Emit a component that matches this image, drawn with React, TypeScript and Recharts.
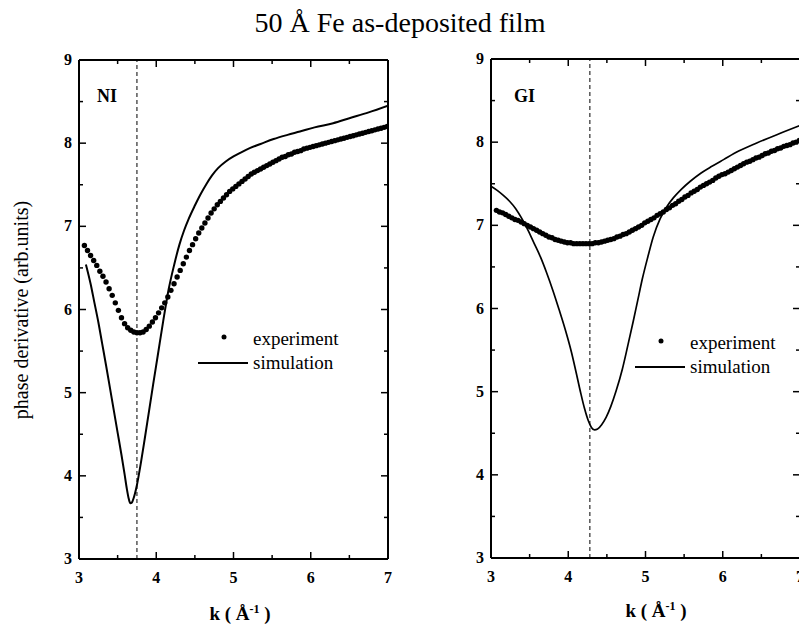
import { ComposedChart, Line, XAxis, YAxis, ReferenceLine } from "recharts";

const kTicks = [3, 3.5, 4, 4.5, 5, 5.5, 6, 6.5, 7];
const vTicks = [3, 3.5, 4, 4.5, 5, 5.5, 6, 6.5, 7, 7.5, 8, 8.5, 9];

// NI panel: [k, phase derivative]
const niExperiment: [number, number][] = [
    [3.07, 6.77], [3.11, 6.71], [3.15, 6.65], [3.19, 6.59], [3.23, 6.53], [3.27, 6.46], [3.31, 6.4], [3.35, 6.33],
    [3.39, 6.25], [3.43, 6.17], [3.47, 6.08], [3.51, 5.99], [3.55, 5.9], [3.59, 5.83], [3.63, 5.78], [3.67, 5.75],
    [3.71, 5.73], [3.75, 5.72], [3.79, 5.72], [3.83, 5.73], [3.87, 5.76], [3.91, 5.8], [3.95, 5.85], [3.99, 5.9],
    [4.03, 5.96], [4.07, 6.02], [4.11, 6.08], [4.15, 6.15], [4.19, 6.23], [4.23, 6.31], [4.27, 6.39], [4.31, 6.47],
    [4.35, 6.55], [4.39, 6.63], [4.43, 6.71], [4.47, 6.78], [4.51, 6.85], [4.55, 6.92], [4.59, 6.98], [4.63, 7.04],
    [4.67, 7.1], [4.71, 7.16], [4.75, 7.21], [4.79, 7.26], [4.83, 7.3], [4.87, 7.34], [4.91, 7.38], [4.95, 7.42],
    [4.99, 7.45], [5.03, 7.48], [5.07, 7.51], [5.11, 7.54], [5.15, 7.57], [5.19, 7.6], [5.23, 7.63], [5.27, 7.65],
    [5.31, 7.67], [5.35, 7.69], [5.39, 7.71], [5.43, 7.73], [5.47, 7.75], [5.51, 7.77], [5.55, 7.79], [5.59, 7.81],
    [5.63, 7.83], [5.67, 7.84], [5.71, 7.86], [5.75, 7.87], [5.79, 7.89], [5.83, 7.9], [5.87, 7.91], [5.91, 7.93],
    [5.95, 7.94], [5.99, 7.95], [6.03, 7.96], [6.07, 7.97], [6.11, 7.98], [6.15, 7.99], [6.19, 8.0], [6.23, 8.01],
    [6.27, 8.02], [6.31, 8.03], [6.35, 8.04], [6.39, 8.05], [6.43, 8.06], [6.47, 8.07], [6.51, 8.08], [6.55, 8.09],
    [6.59, 8.1], [6.63, 8.11], [6.67, 8.12], [6.71, 8.13], [6.75, 8.14], [6.79, 8.15], [6.83, 8.16], [6.87, 8.17],
    [6.91, 8.18], [6.95, 8.19], [6.99, 8.2],
];

const niSimulation: [number, number][] = [
    [3.09, 6.54], [3.15, 6.31], [3.2, 6.08], [3.25, 5.85], [3.3, 5.59], [3.35, 5.33], [3.4, 5.06], [3.45, 4.79],
    [3.5, 4.52], [3.55, 4.25], [3.59, 4.02], [3.62, 3.84], [3.645, 3.72], [3.665, 3.67], [3.685, 3.68], [3.71, 3.74],
    [3.75, 3.89], [3.8, 4.15], [3.85, 4.44], [3.9, 4.74], [3.96, 5.1], [4.02, 5.45], [4.09, 5.86], [4.16, 6.24],
    [4.23, 6.53], [4.3, 6.78], [4.36, 6.95], [4.42, 7.09], [4.5, 7.25], [4.57, 7.38], [4.65, 7.51], [4.72, 7.61],
    [4.8, 7.7], [4.9, 7.78], [5.0, 7.84], [5.1, 7.89], [5.21, 7.94], [5.35, 7.99], [5.52, 8.05], [5.7, 8.1],
    [5.86, 8.14], [6.05, 8.19], [6.29, 8.24], [6.5, 8.3], [6.75, 8.37], [7.0, 8.45],
];

// GI panel
const giExperiment: [number, number][] = [
    [3.07, 7.18], [3.11, 7.16], [3.15, 7.15], [3.19, 7.13], [3.23, 7.11], [3.27, 7.09], [3.31, 7.07], [3.35, 7.06],
    [3.39, 7.04], [3.43, 7.02], [3.47, 7.0], [3.51, 6.98], [3.55, 6.96], [3.59, 6.94], [3.63, 6.92], [3.67, 6.9],
    [3.71, 6.88], [3.75, 6.86], [3.79, 6.85], [3.83, 6.83], [3.87, 6.82], [3.91, 6.81], [3.95, 6.8], [3.99, 6.79],
    [4.03, 6.79], [4.07, 6.78], [4.11, 6.78], [4.15, 6.78], [4.19, 6.78], [4.23, 6.78], [4.27, 6.78], [4.31, 6.78],
    [4.35, 6.79], [4.39, 6.79], [4.43, 6.8], [4.47, 6.81], [4.51, 6.82], [4.55, 6.83], [4.59, 6.84], [4.63, 6.86],
    [4.67, 6.87], [4.71, 6.89], [4.75, 6.9], [4.79, 6.92], [4.83, 6.94], [4.87, 6.96], [4.91, 6.98], [4.95, 7.0],
    [4.99, 7.03], [5.03, 7.05], [5.07, 7.07], [5.11, 7.09], [5.15, 7.12], [5.19, 7.14], [5.23, 7.16], [5.27, 7.19],
    [5.31, 7.21], [5.35, 7.24], [5.39, 7.26], [5.43, 7.29], [5.47, 7.31], [5.51, 7.34], [5.55, 7.36], [5.59, 7.39],
    [5.63, 7.41], [5.67, 7.43], [5.71, 7.46], [5.75, 7.48], [5.79, 7.5], [5.83, 7.52], [5.87, 7.54], [5.91, 7.57],
    [5.95, 7.59], [5.99, 7.61], [6.03, 7.62], [6.07, 7.64], [6.11, 7.66], [6.15, 7.68], [6.19, 7.7], [6.23, 7.72],
    [6.27, 7.74], [6.31, 7.76], [6.35, 7.77], [6.39, 7.79], [6.43, 7.81], [6.47, 7.82], [6.51, 7.84], [6.55, 7.86],
    [6.59, 7.87], [6.63, 7.89], [6.67, 7.9], [6.71, 7.92], [6.75, 7.93], [6.79, 7.95], [6.83, 7.96], [6.87, 7.97],
    [6.91, 7.99], [6.95, 8.0], [6.99, 8.02],
];

const giSimulation: [number, number][] = [
    [3.0, 7.47], [3.08, 7.42], [3.16, 7.36], [3.24, 7.29], [3.32, 7.2], [3.4, 7.08], [3.48, 6.94], [3.56, 6.78],
    [3.64, 6.62], [3.72, 6.43], [3.8, 6.22], [3.88, 5.99], [3.96, 5.75], [4.04, 5.48], [4.1, 5.24], [4.16, 4.99],
    [4.21, 4.8], [4.26, 4.65], [4.3, 4.57], [4.34, 4.54], [4.38, 4.55], [4.43, 4.6], [4.49, 4.69], [4.55, 4.82],
    [4.62, 5.01], [4.7, 5.27], [4.77, 5.55], [4.84, 5.84], [4.9, 6.1], [4.96, 6.36], [5.03, 6.62], [5.1, 6.86],
    [5.19, 7.08], [5.28, 7.23], [5.36, 7.33], [5.46, 7.43], [5.58, 7.53], [5.72, 7.63], [5.86, 7.71], [6.01, 7.79],
    [6.2, 7.89], [6.44, 7.99], [6.7, 8.09], [7.0, 8.2],
];

const niMarker = 3.75;
const giMarker = 4.28;

const serif = '"Liberation Serif", "Times New Roman", serif';

const toRows = (pairs: [number, number][]) => pairs.map(([k, v]) => ({ k, v }));

function FrameTick(props: any) {
    const { x, y, payload, side, showLabel } = props;
    const val = payload.value as number;
    const major = Number.isInteger(val);
    const len = major ? 7 : 4;
    let x2 = x;
    let y2 = y;
    if (side === "bottom") y2 = y - len;
    if (side === "top") y2 = y + len;
    if (side === "left") x2 = x + len;
    if (side === "right") x2 = x - len;
    const labelStyle = { fontFamily: serif, fontWeight: 700, fontSize: 16, fill: "#000" };
    return (
        <g>
            <line x1={x} y1={y} x2={x2} y2={y2} stroke="#000" strokeWidth={1.5} />
            {showLabel && major && side === "bottom" && (
                <text x={x} y={y + 24} textAnchor="middle" style={labelStyle}>{val}</text>
            )}
            {showLabel && major && side === "left" && (
                <text x={x - 7} y={y + 5} textAnchor="end" style={labelStyle}>{val}</text>
            )}
        </g>
    );
}

interface PanelProps {
    experiment: [number, number][];
    simulation: [number, number][];
    marker: number;
    left: number;
    width: number;
    margin: { top: number; right: number; bottom: number; left: number };
    simWidth: number;
}

// axes are 1px thick boxes so the plot edge sits where the margins say
const Panel = ({ experiment, simulation, marker, left, width, margin, simWidth }: PanelProps) => {
    const axisLine = { stroke: "#000", strokeWidth: 2 };
    const common = { tickLine: false, tickSize: 0, tickMargin: 0, interval: 0 as const, axisLine, allowDataOverflow: true };
    return (
        <div style={{ position: "absolute", left, top: 0 }}>
            <ComposedChart width={width} height={629} margin={margin}>
                <XAxis {...common} type="number" dataKey="k" domain={[3, 7]} ticks={kTicks} height={1}
                    tick={<FrameTick side="bottom" showLabel />} />
                <XAxis {...common} xAxisId="top" orientation="top" type="number" dataKey="k" domain={[3, 7]} ticks={kTicks}
                    height={1} tick={<FrameTick side="top" />} />
                <YAxis {...common} type="number" domain={[3, 9]} ticks={vTicks} width={1}
                    tick={<FrameTick side="left" showLabel />} />
                <YAxis {...common} yAxisId="right" orientation="right" type="number" domain={[3, 9]} ticks={vTicks}
                    width={1} tick={<FrameTick side="right" />} />
                <ReferenceLine x={marker} stroke="#000" strokeWidth={1} strokeDasharray="4 3" />
                <Line data={toRows(simulation)} dataKey="v" type="monotone" stroke="#000" strokeWidth={simWidth}
                    dot={false} isAnimationActive={false} />
                <Line data={toRows(experiment)} dataKey="v" stroke="none"
                    dot={{ r: 2.7, fill: "#000", stroke: "none" }} isAnimationActive={false} />
            </ComposedChart>
        </div>
    );
};

const Legend = ({ x, y }: { x: number; y: number }) => (
    <g style={{ fontFamily: serif, fontSize: 19 }}>
        <circle cx={x + 26} cy={y} r={2.5} fill="#000" />
        <text x={x + 55} y={y + 8}>experiment</text>
        <line x1={x} y1={y + 26} x2={x + 50} y2={y + 26} stroke="#000" strokeWidth={2.2} />
        <text x={x + 55} y={y + 32}>simulation</text>
    </g>
);

const KLabel = ({ x, y }: { x: number; y: number }) => (
    <text x={x} y={y} textAnchor="middle" style={{ fontFamily: serif, fontWeight: 700, fontSize: 19 }}>
        k ( Å<tspan dy={-7} fontSize={12}>-1</tspan><tspan dy={7}> )</tspan>
    </text>
);

export default function App() {
    return (
        <div style={{ position: "absolute", left: 0, top: 0, width: 799, height: 629, overflow: "hidden", background: "#fff" }}>
            <Panel experiment={niExperiment} simulation={niSimulation} marker={niMarker} left={0} width={400}
                margin={{ top: 59, right: 11, bottom: 69, left: 78 }} simWidth={2} />
            <Panel experiment={giExperiment} simulation={giSimulation} marker={giMarker} left={400} width={401}
                margin={{ top: 58, right: 0, bottom: 70, left: 90 }} simWidth={1.7} />
            <svg width={799} height={629} style={{ position: "absolute", left: 0, top: 0, pointerEvents: "none" }}>
                <text x={400} y={32} textAnchor="middle" style={{ fontFamily: serif, fontSize: 28 }}>
                    50 Å Fe as-deposited film
                </text>
                <text transform="translate(28, 310) rotate(-90)" textAnchor="middle" style={{ fontFamily: serif, fontSize: 20 }}>
                    phase derivative (arb.units)
                </text>
                <text x={97} y={102} style={{ fontFamily: serif, fontWeight: 700, fontSize: 18 }}>NI</text>
                <text x={514} y={102} style={{ fontFamily: serif, fontWeight: 700, fontSize: 18 }}>GI</text>
                <Legend x={198} y={337} />
                <Legend x={635} y={341} />
                <KLabel x={240} y={620} />
                <KLabel x={656} y={617} />
            </svg>
        </div>
    );
}
